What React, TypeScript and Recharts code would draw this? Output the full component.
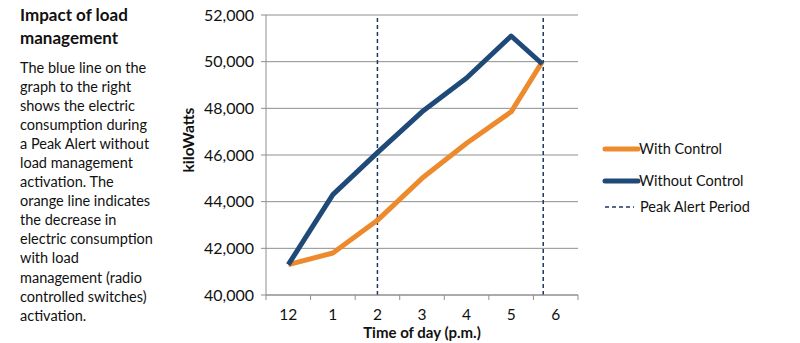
import React from "react";
import {
  LineChart,
  Line,
  XAxis,
  YAxis,
  CartesianGrid,
  ReferenceLine,
} from "recharts";

const hours = [0, 1, 2, 3, 4, 5, 5.7];
const withControl = [41300, 41800, 43200, 45000, 46500, 47850, 50000];
const withoutControl = [41300, 44300, 46100, 47850, 49300, 51100, 49900];
const tickLabels = ["12", "1", "2", "3", "4", "5", "6"];
const yTicks = [40000, 42000, 44000, 46000, 48000, 50000, 52000];
const peakAlert = [2, 5.72];

const introLines = [
  "The blue line on the",
  "graph to the right",
  "shows the electric",
  "consumption during",
  "a Peak Alert without",
  "load management",
  "activation. The",
  "orange line indicates",
  "the decrease in",
  "electric consumption",
  "with load",
  "management (radio",
  "controlled switches)",
  "activation.",
];

const ORANGE = "#EE8A2E";
const BLUE = "#1F4A78";
const NAVY = "#1F3864";
const GRID = "#8E8E8E";
const FONT = "Lato, 'Open Sans', sans-serif";

const data = hours.map((h, i) => ({
  hour: h,
  withControl: withControl[i],
  withoutControl: withoutControl[i],
}));

const BAND = 312 / 7;

function HourTick(props: any) {
  const { x, y, payload, index } = props;
  return (
    <g>
      {index === 0 && (
        <line x1={x - BAND / 2} x2={x - BAND / 2} y1={y} y2={y + 5} stroke={GRID} />
      )}
      <line x1={x + BAND / 2} x2={x + BAND / 2} y1={y} y2={y + 5} stroke={GRID} />
      <text
        x={x}
        y={y + 25}
        textAnchor="middle"
        fontSize={15.5}
        fontFamily={FONT}
        fill="#111"
      >
        {tickLabels[payload.value]}
      </text>
    </g>
  );
}

function LegendBox() {
  const row = (y: number, color: string, label: string, dashed?: boolean) => (
    <g key={label}>
      <line
        x1={3}
        x2={dashed ? 32 : 36}
        y1={y}
        y2={y}
        stroke={color}
        strokeWidth={dashed ? 1.5 : 5}
        strokeDasharray={dashed ? "4 3" : undefined}
        strokeLinecap={dashed ? "butt" : "round"}
      />
      <text x={dashed ? 38 : 37} y={y + 5} fontSize={14.5} fontFamily={FONT} fill="#111">
        {label}
      </text>
    </g>
  );
  return (
    <svg width={190} height={80} style={{ position: "absolute", left: 602, top: 139 }}>
      {row(10, ORANGE, "With Control")}
      {row(42, BLUE, "Without Control")}
      {row(68, NAVY, "Peak Alert Period", true)}
    </svg>
  );
}

export default function App() {
  return (
    <div
      style={{
        position: "absolute",
        left: 0,
        top: 0,
        width: 800,
        height: 343,
        background: "#fff",
        fontFamily: FONT,
      }}
    >
      <div
        style={{
          position: "absolute",
          left: 20,
          top: 4,
          fontSize: 17,
          fontWeight: 700,
          lineHeight: "22.7px",
          color: "#111",
        }}
      >
        Impact of load
        <br />
        management
      </div>
      <div
        style={{
          position: "absolute",
          left: 20,
          top: 58,
          fontSize: 14.5,
          lineHeight: "19.05px",
          color: "#111",
          whiteSpace: "nowrap",
        }}
      >
        {introLines.map((l, i) => (
          <div key={i}>{l}</div>
        ))}
      </div>
      <LineChart
        width={800}
        height={343}
        data={data}
        margin={{ top: 15, right: 222, bottom: 18, left: 0 }}
        style={{ position: "absolute", left: 0, top: 0 }}
      >
        <CartesianGrid vertical={false} stroke={GRID} strokeWidth={1} />
        <XAxis
          dataKey="hour"
          type="number"
          domain={[-0.5, 6.5]}
          ticks={[0, 1, 2, 3, 4, 5, 6]}
          tick={<HourTick />}
          tickLine={false}
          tickSize={0}
          tickMargin={0}
          height={30}
          stroke={GRID}
          interval={0}
          label={{
            value: "Time of day (p.m.)",
            position: "insideBottom",
            offset: -13,
            fontSize: 15,
            fontWeight: 700,
            fontFamily: FONT,
            fill: "#111",
          }}
        />
        <YAxis
          type="number"
          domain={[40000, 52000]}
          ticks={yTicks}
          width={266}
          stroke={GRID}
          tickSize={5}
          tickMargin={7}
          tick={{ fontSize: 16, fontFamily: FONT, fill: "#111" }}
          tickFormatter={(v: number) => v.toLocaleString("en-US")}
          label={{
            content: () => (
              <text
                x={188}
                y={140}
                transform="rotate(-90, 188, 140)"
                textAnchor="middle"
                dominantBaseline="central"
                fontSize={15.5}
                fontWeight={700}
                fontFamily={FONT}
                fill="#111"
              >
                kiloWatts
              </text>
            ),
          }}
        />
        {peakAlert.map((x) => (
          <ReferenceLine
            key={x}
            x={x}
            stroke={NAVY}
            strokeWidth={1.5}
            strokeDasharray="4 3"
          />
        ))}
        <Line
          dataKey="withControl"
          name="With Control"
          stroke={ORANGE}
          strokeWidth={5}
          dot={false}
          strokeLinejoin="round"
          isAnimationActive={false}
        />
        <Line
          dataKey="withoutControl"
          name="Without Control"
          stroke={BLUE}
          strokeWidth={5}
          dot={false}
          strokeLinejoin="round"
          isAnimationActive={false}
        />
      </LineChart>
      <LegendBox />
    </div>
  );
}
